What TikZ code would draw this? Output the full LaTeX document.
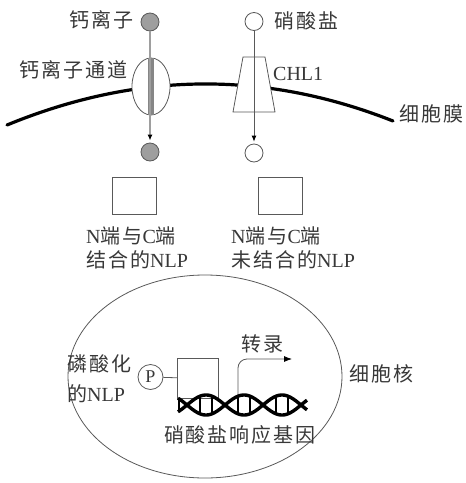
\documentclass[tikz,border=0pt]{standalone}
\usepackage{fontspec}
\setmainfont{Liberation Serif}
\newfontfamily\cjk[LetterSpace=10]{Noto Sans CJK SC}
\usetikzlibrary{shapes.geometric,arrows.meta}
\newcommand\zh[1]{{\cjk #1}}
\definecolor{txt}{gray}{0.22}
\definecolor{ionfill}{gray}{0.62}
\definecolor{edge}{gray}{0.35}

\begin{document}
\begin{tikzpicture}[x=1pt,y=-1pt,
  lbl/.style={inner sep=0pt, text=txt, font=\fontsize{20}{22}\selectfont},
  ion/.style={circle, draw=edge, line width=0.8pt, minimum size=18pt, inner sep=0pt},
  box/.style={draw=edge, line width=0.8pt, minimum width=44pt, minimum height=37pt, inner sep=0pt},
  thin/.style={draw=edge, line width=0.8pt},
  tip/.style={-{Latex[length=6pt,width=5pt,color=black]}, shorten >=2pt},
  membrane/.style={line width=3.2pt, line cap=round},
  strand/.style={line width=3.4pt},
  rung/.style={line width=2.2pt},
]
\useasboundingbox (0,0) rectangle (466,483);

% cell membrane
\draw[membrane] (7,125) .. controls (136,72) and (264,70) .. (393,121);

% calcium channel
\node[ellipse, thin, fill=white, minimum width=38pt, minimum height=57pt, inner sep=0pt] (chan) at (151,86.5) {};
\fill[ionfill!85!black] (147.5,58) rectangle (153.5,115);
\node[ion, fill=ionfill] (ca1) at (150,22) {};
\node[ion, fill=ionfill] (ca2) at (150,152) {};
\draw[line width=1.8pt, ionfill, tip] (ca1) -- (ca2);

% nitrate transporter CHL1
\draw[thin, fill=white] (243,57) -- (265,57) -- (275,112) -- (233,112) -- cycle;
\node[ion, fill=white] (no1) at (254,21.5) {};
\node[ion, fill=white] (no2) at (254,153) {};
\draw[thin, tip] (no1) -- (no2);

% labels at the membrane
\node[lbl, anchor=base east] (lca) at (134,27) {\zh{钙离子}};
\node[lbl, anchor=base east] (lchan) at (128,77) {\zh{钙离子通道}};
\node[lbl, anchor=base west] (lno) at (274,28) {\zh{硝酸盐}};
\node[lbl, anchor=base west] (lchl) at (273,80) {CHL1};
\node[lbl, anchor=base west] (lmem) at (399,121) {\zh{细胞膜}};

% NLP states in the cytoplasm
\node[box] (nlp1) at (134.5,196) {};
\node[box] (nlp2) at (280.5,196) {};
\node[lbl, anchor=base west] (t1a) at (86,243) {N\zh{端与}C\zh{端}};
\node[lbl, anchor=base west] (t1b) at (86,267) {\zh{结合的}NLP};
\node[lbl, anchor=base west] (t2a) at (231,243) {N\zh{端与}C\zh{端}};
\node[lbl, anchor=base west] (t2b) at (231,267) {\zh{未结合的}NLP};

% nucleus
\node[ellipse, thin, minimum width=274pt, minimum height=203pt, inner sep=0pt] (nuc) at (205,376.5) {};
\node[lbl, anchor=base west] (lnuc) at (349,381) {\zh{细胞核}};
\node[lbl, anchor=base west] (lp1) at (67,371) {\zh{磷酸化}};
\node[lbl, anchor=base west] (lp2) at (67,401) {\zh{的}NLP};

\node[circle, thin, minimum size=25pt, inner sep=0pt, lbl, font=\fontsize{18}{18}\selectfont] (p) at (150.5,377) {P};
\node[box, minimum width=41pt, minimum height=40pt, anchor=north west] (nlp3) at (177,358) {};
\draw[thin] (p) -- (nlp3);

% transcription arrow
\coordinate (ts) at (238,398);
\coordinate (te) at (292,359);
\draw[thin, rounded corners=9pt, -{Latex[length=8pt,width=6pt,color=black]}] (ts) |- (te);
\node[lbl, anchor=base west] (ltr) at (241,351) {\zh{转录}};

% nitrate-responsive gene (double helix)
\foreach \s in {1,-1}
  \draw[strand] plot[domain=178:307, samples=120, smooth] (\x, {405+\s*10*sin(4.7368*(\x-187))});
\draw[rung] (179,398) -- (179,412);
\foreach \k in {0,1,2}
  \foreach \d in {-6,6}
    \draw[rung] ({187+38*\k+19+\d},397) -- ({187+38*\k+19+\d},413);
\node[lbl, anchor=base] (lgene) at (240,442) {\zh{硝酸盐响应基因}};
\end{tikzpicture}
\end{document}
